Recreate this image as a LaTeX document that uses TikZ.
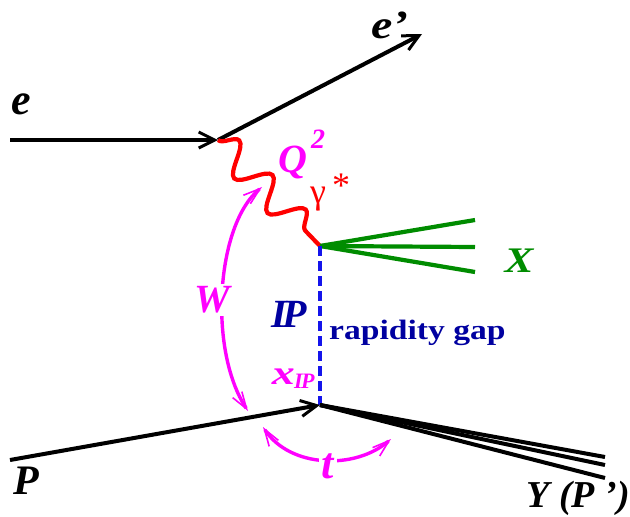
\documentclass[tikz,border=0pt]{standalone}
\usepackage{fontspec}
\setmainfont{Liberation Serif}
\newfontfamily\widefont[FakeStretch=1.2]{Liberation Serif}
\newfontfamily\xwidefont[FakeStretch=1.35]{Liberation Serif}
\usetikzlibrary{arrows.meta,decorations.pathmorphing}
\definecolor{mag}{RGB}{255,0,255}
\definecolor{grn}{RGB}{0,140,0}
\definecolor{dblue}{RGB}{0,0,160}
\definecolor{gapblue}{RGB}{20,20,235}
\definecolor{phred}{RGB}{255,0,0}
\tikzset{
  lbl/.style={inner sep=0pt, font=\fontsize{#1}{#1}\selectfont\bfseries\itshape},
  lbl/.default=36,
  wlbl/.style={inner sep=0pt, font=\fontsize{#1}{#1}\widefont\bfseries\itshape},
  fermion/.style={line width=4pt, black},
  bhead/.style={-{Straight Barb[length=16pt,width=16pt,line width=3pt]}},
  photon/.style={line width=4.2pt, phred, decorate,
    decoration={snake, segment length=48pt, amplitude=15pt, post length=2pt}},
  hadron/.style={line width=4.2pt, grn},
  gapline/.style={line width=3.6pt, gapblue, dash pattern=on 10pt off 5pt},
  marc/.style={line width=3.4pt, mag,
    {Straight Barb[length=17pt,width=11pt,line width=1.6pt]}-{Straight Barb[length=17pt,width=11pt,line width=1.6pt]}},
}
\begin{document}
\begin{tikzpicture}[x=1pt,y=-1pt]
\useasboundingbox (0,0) rectangle (630,517);
% vertices
\coordinate (vtop) at (218,140);
\coordinate (vmid) at (320,246);
\coordinate (vbot) at (320,405);
\coordinate (ein) at (10,140);
\coordinate (eout) at (422,34);
\coordinate (pin) at (10,460);
\coordinate (x1) at (475,220);
\coordinate (x2) at (475,247);
\coordinate (x3) at (475,272);
\coordinate (y1) at (605,457);
\coordinate (y2) at (605,465);
\coordinate (y3) at (605,478);
\coordinate (wtop) at (262,187);
\coordinate (wbot) at (248,411);
\coordinate (tl) at (263,427);
\coordinate (tr) at (391,439);
% lepton lines
\draw[fermion, bhead] (ein) -- (vtop);
\draw[fermion, bhead] (vtop) -- (eout);
% photon
\draw[photon] (vtop) -- (vmid);
% hadronic system X
\draw[hadron] (vmid) -- (x1);
\draw[hadron] (vmid) -- (x2);
\draw[hadron] (vmid) -- (x3);
% rapidity gap
\draw[gapline] (vmid) -- (vbot);
% proton lines
\draw[fermion, bhead] (pin) -- (vbot);
\draw[fermion] (vbot) -- (y1);
\draw[fermion] (vbot) -- (y2);
\draw[fermion] (vbot) -- (y3);
% W arc
\draw[marc] (wtop) .. controls (216,225) and (208,350) .. (wbot);
\node[lbl=40, mag, fill=white, inner sep=3pt] (W) at (212,300) {W};
% t arc
\draw[marc] (tl) .. controls (290,468) and (355,470) .. (tr);
\node[lbl=44, mag, fill=white, inner sep=3pt] (t) at (328,466) {t};
% labels
\node[lbl=44] (le) at (21,104) {e};
\node[wlbl=40] (lep) at (390,25) {e’};
\node[lbl=40, mag] (lQ) at (293,162) {Q};
\node[lbl=28, mag] (lQ2) at (318,139) {2};
\node[inner sep=0pt, phred, font=\fontsize{36}{36}\selectfont] (lg) at (318,199) {γ};
\node[inner sep=0pt, phred, font=\fontsize{36}{36}\selectfont] (lst) at (341,186) {*};
\node[wlbl=36, grn] (lX) at (519,261) {X};
\node[lbl=40, dblue] (lIP) at (289,314) {I\kern-0.1em P};
\node[inner sep=0pt, dblue, anchor=base west, font=\fontsize{28}{28}\widefont\bfseries] (lgap) at (329,339) {rapidity gap};
\node[inner sep=0pt, mag, anchor=base east, font=\fontsize{34}{34}\xwidefont\bfseries\itshape] (lx) at (295,384) {x};
\node[lbl=22, mag, anchor=base west] (lxs) at (294,388) {I\kern-0.08em P};
\node[lbl=42] (lP) at (26,481) {P};
\node[lbl=38, anchor=base east] (lY) at (630,507) {Y (P ’)};
\end{tikzpicture}
\end{document}
